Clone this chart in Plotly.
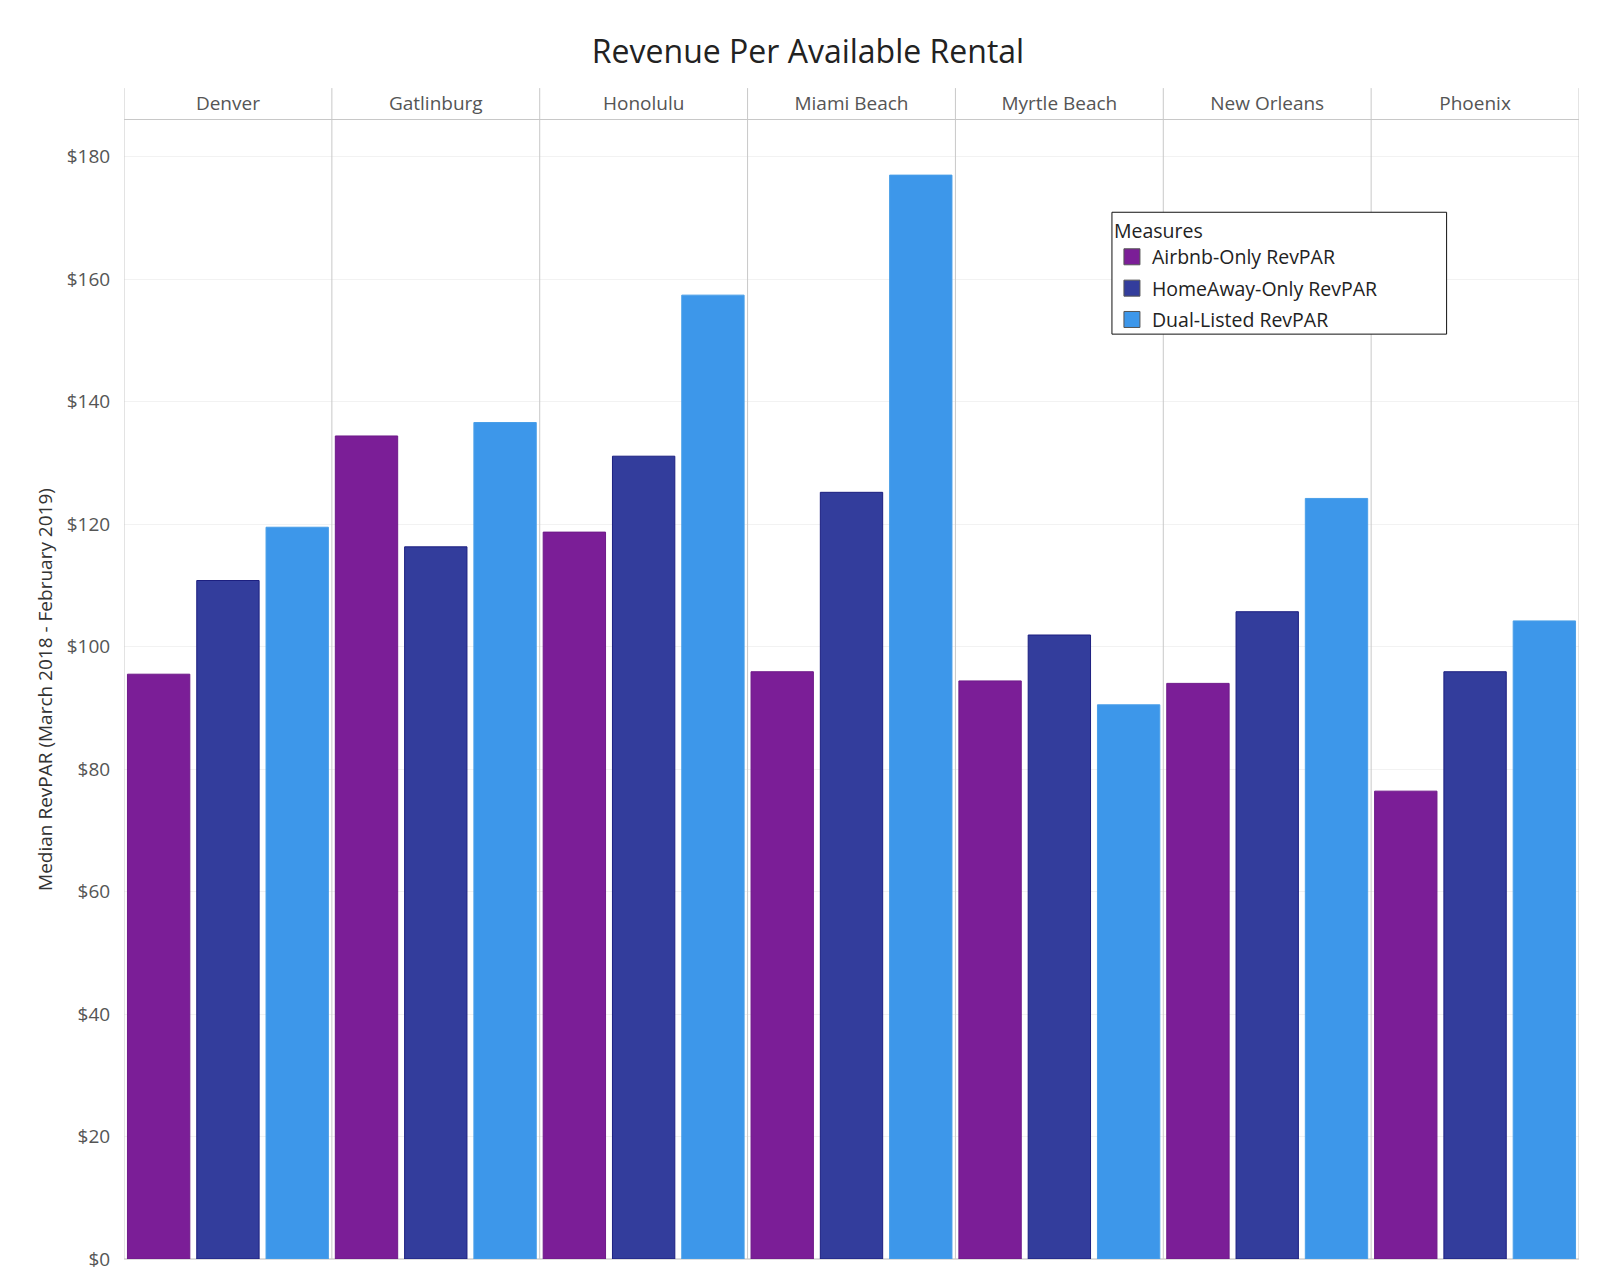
import plotly.graph_objects as go

# города (панели) и значения RevPAR
cities = ["Denver", "Gatlinburg", "Honolulu", "Miami Beach",
          "Myrtle Beach", "New Orleans", "Phoenix"]
airbnb = [95.5, 134.4, 118.7, 95.9, 94.4, 94.0, 76.4]
homeaway = [110.8, 116.3, 131.1, 125.2, 101.9, 105.7, 95.9]
dual = [119.5, 136.6, 157.4, 177.0, 90.5, 124.2, 104.2]
y_ticks = [0, 20, 40, 60, 80, 100, 120, 140, 160, 180]
y_labels = ["$" + str(v) for v in y_ticks]

series = [
    ("Airbnb-Only RevPAR", airbnb, "#7B1E97", "#6E1A89"),
    ("HomeAway-Only RevPAR", homeaway, "#333D9C", "#1C1F80"),
    ("Dual-Listed RevPAR", dual, "#3D97EA", "#4A9FE8"),
]

fig = go.Figure()
for name, vals, color, edge in series:
    fig.add_trace(go.Bar(x=cities, y=vals, name=name, legendgroup=name,
                         showlegend=False,
                         marker=dict(color=color, line=dict(color=edge, width=1))))
    # только для легенды: крупный квадратный значок, как в оригинале
    fig.add_trace(go.Scatter(x=[None], y=[None], mode="markers", name=name,
                             legendgroup=name,
                             marker=dict(symbol="square", size=20, color=color,
                                         line=dict(color="#555555", width=1))))

# вертикальные разделители панелей (как в Tableau), включая шапку
for i in range(len(cities) + 1):
    fig.add_shape(type="line", xref="x", yref="paper",
                  x0=i - 0.5, x1=i - 0.5, y0=0, y1=1.028,
                  line=dict(color="#C8C8C8", width=1))

# рамка легенды пошире, как в оригинале
fig.add_shape(type="rect", xref="paper", yref="paper",
              x0=0.679, x1=0.909, y0=0.812, y1=0.919,
              fillcolor="white", line=dict(color="#111111", width=1))

# страница html добавляет отступ 8px, поэтому поля чуть меньше
fig.update_layout(
    width=1600, height=1280,
    margin=dict(l=116, r=29, t=112, b=29),
    paper_bgcolor="white", plot_bgcolor="white",
    font=dict(family="Open Sans", color="#555555"),
    title=dict(text="Revenue Per Available Rental", x=0.5, xanchor="center",
               y=0.966, yanchor="middle",
               font=dict(size=32, color="#222222")),
    barmode="group", bargap=0.0, bargroupgap=0.1,
    showlegend=True,
    legend=dict(title=dict(text="Measures", font=dict(size=19.5, color="#222222")),
                font=dict(size=19.5, color="#222222"),
                x=0.679, y=0.919, xanchor="left", yanchor="top",
                borderwidth=0, bgcolor="rgba(0,0,0,0)",
                tracegroupgap=3, itemsizing="trace"),
)
fig.update_xaxes(side="top", showgrid=False, showline=True, linecolor="#C8C8C8",
                 ticks="outside", ticklen=1, tickcolor="rgba(0,0,0,0)",
                 tickfont=dict(size=19, color="#555555"),
                 range=[-0.5, len(cities) - 0.5])
fig.update_yaxes(range=[0, 186], tickvals=y_ticks, ticktext=y_labels,
                 showgrid=True, gridcolor="#F2F2F2", zeroline=True,
                 zerolinecolor="#DDDDDD", tickfont=dict(size=19, color="#555555"),
                 ticks="outside", ticklen=9, tickcolor="rgba(0,0,0,0)",
                 title=dict(text="Median RevPAR (March 2018 - February 2019)",
                            font=dict(size=19, color="#333333"), standoff=9))

fig.write_html("out.html")
